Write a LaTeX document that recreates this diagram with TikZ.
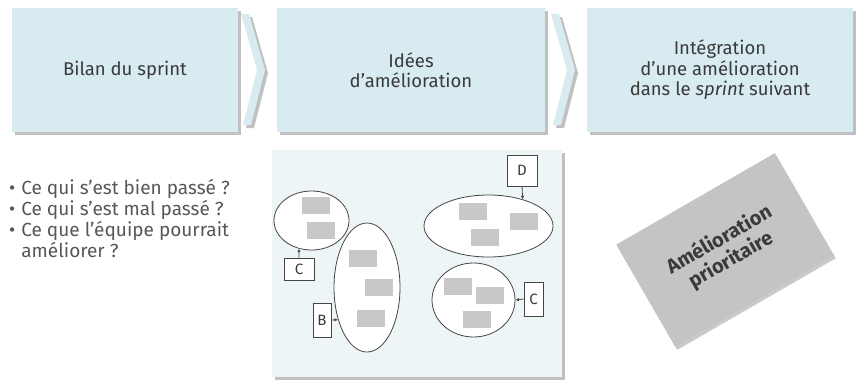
\documentclass[tikz,border=0pt]{standalone}
\usepackage{fontspec}
\setmainfont{Fira Sans}
\usetikzlibrary{arrows.meta, shapes.geometric, shadows}
\definecolor{boxblue}{HTML}{D8EBF0}
\definecolor{panelblue}{HTML}{EEF5F7}
\definecolor{notegray}{HTML}{C8C8C8}
\definecolor{cardgray}{HTML}{C4C4C4}
\definecolor{textgray}{HTML}{3A3A3A}
\definecolor{linegray}{HTML}{454545}

\tikzset{
  softshadow/.style={drop shadow={shadow xshift=3pt, shadow yshift=-3pt, opacity=0.45, fill=black!55}},
  stepbox/.style={fill=boxblue, minimum height=124pt, inner sep=0pt, align=center,
    text=textgray, font=\fontsize{18.5}{20.5}\selectfont, softshadow},
  chev/.style={fill=boxblue, softshadow},
  ideagroup/.style={ellipse, draw=linegray, line width=0.8pt, fill=white, inner sep=0pt},
  postit/.style={fill=notegray, minimum width=28pt, minimum height=17pt, inner sep=0pt},
  tagbox/.style={draw=linegray, line width=0.8pt, fill=white, inner sep=0pt,
    text=textgray, font=\fontsize{15}{15}\selectfont},
  pointer/.style={-{Latex[length=3.5pt, width=3.5pt]}, line width=0.8pt, draw=linegray},
  card/.style={fill=cardgray, minimum width=183pt, minimum height=118pt, inner sep=0pt,
    align=center, text=textgray, font=\fontsize{20}{23}\selectfont\bfseries,
    drop shadow={shadow xshift=2pt, shadow yshift=-3pt, opacity=0.35, fill=black!60}}
}

\begin{document}
\begin{tikzpicture}[x=1pt, y=-1pt]
    \useasboundingbox (0,0) rectangle (859,380);

    % Steps
    \node[stepbox, minimum width=226pt] (bilan) at (125,70) {Bilan du sprint};
    \node[stepbox, minimum width=268pt] (idees) at (411,70) {Idées\\d’amélioration};
    \node[stepbox, minimum width=266pt] (integ) at (720,70) {Intégration\\d’une amélioration\\dans le \textit{sprint} suivant};

    % Chevrons
    \path[chev] (241,14) -- (249,14) -- (265,70) -- (251,125) -- (243,125) -- (257,70) -- cycle;
    \path[chev] (551,14) -- (559,14) -- (575,70) -- (561,125) -- (553,125) -- (567,70) -- cycle;

    % Questions
    \node[anchor=north west, text=textgray!85, font=\fontsize{19}{19.5}\selectfont, inner sep=0pt] (questions) at (9,179)
      {\begin{tabular}{@{}l@{\hspace{6pt}}l@{}}
        \textbullet & Ce qui s’est bien passé ?\\
        \textbullet & Ce qui s’est mal passé ?\\
        \textbullet & Ce que l’équipe pourrait\\
                    & améliorer ?
      \end{tabular}};

    % Panel of ideas
    \node[fill=panelblue, minimum width=290pt, minimum height=227pt, inner sep=0pt, softshadow] (panel) at (417,263.5) {};

    \node[ideagroup, minimum width=75pt, minimum height=59pt] (g1) at (311.5,220.5) {};
    \node[ideagroup, minimum width=66pt, minimum height=129pt] (g2) at (367,287.5) {};
    \node[ideagroup, minimum width=129pt, minimum height=62pt] (g3) at (488.5,226) {};
    \node[ideagroup, minimum width=83pt, minimum height=74pt] (g4) at (473.5,300) {};

    \node[postit] (p11) at (316,205.5) {};
    \node[postit] (p12) at (321,230) {};
    \node[postit] (p21) at (363,258.5) {};
    \node[postit] (p22) at (378.5,287.5) {};
    \node[postit] (p23) at (371,318) {};
    \node[postit] (p31) at (472.5,211) {};
    \node[postit] (p32) at (524,221) {};
    \node[postit] (p33) at (485,237.5) {};
    \node[postit] (p41) at (457.5,286.5) {};
    \node[postit] (p42) at (490,295) {};
    \node[postit] (p43) at (477,319.5) {};

    % Tags
    \node[tagbox, minimum width=30pt, minimum height=22pt] (tagc1) at (299,269) {C};
    \node[tagbox, minimum width=18pt, minimum height=34pt] (tagb) at (322,320) {B};
    \node[tagbox, minimum width=30pt, minimum height=31pt] (tagd) at (522,170.5) {D};
    \node[tagbox, minimum width=19pt, minimum height=34pt] (tagc2) at (533.5,299) {C};

    \draw[pointer] (tagc1.north) -- (g1.246);
    \draw[pointer] (tagb.east) -- (g2.228);
    \draw[pointer] (tagd.south) -- (g3.38);
    \draw[pointer] (tagc2.west) -- (g4.east);

    % Priority card
    \node[card, rotate=30] (prio) at (725,250) {Amélioration\\prioritaire};
\end{tikzpicture}
\end{document}
